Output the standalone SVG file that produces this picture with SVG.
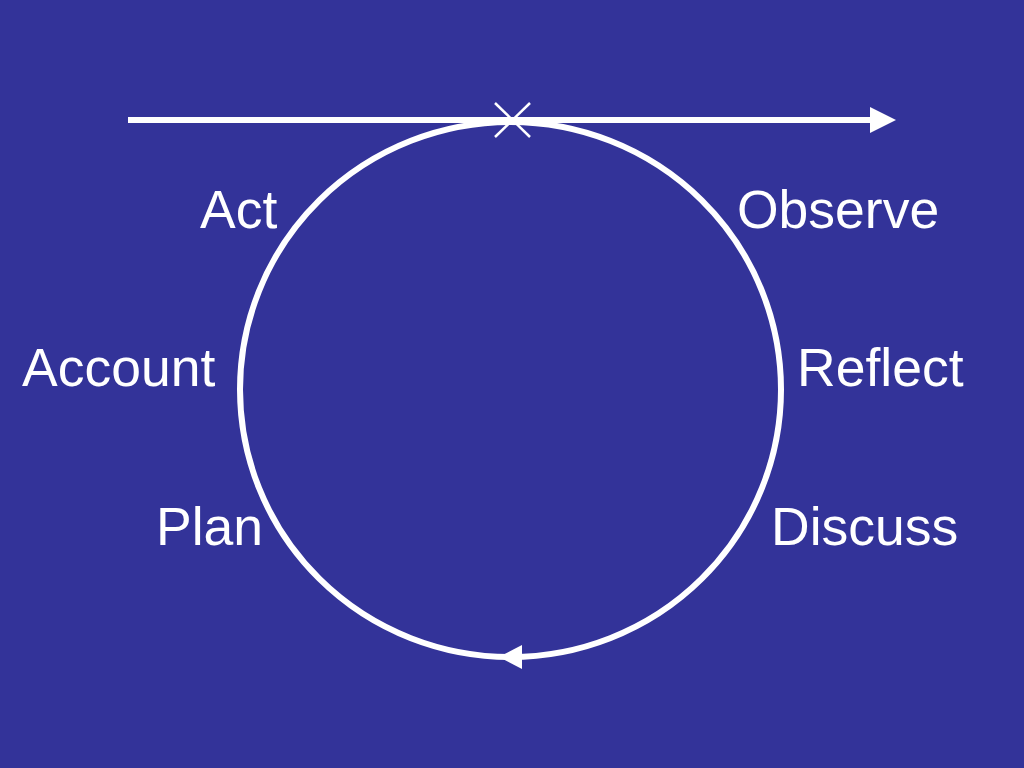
<svg xmlns="http://www.w3.org/2000/svg" width="1024" height="768" viewBox="0 0 1024 768">
<style>
.lbl{font-family:"Liberation Sans",Arial,sans-serif;font-size:53.5px;fill:#ffffff}
.ln{stroke:#ffffff;fill:none}
</style>
<rect x="0" y="0" width="1024" height="768" fill="#333399"/>
<g id="connectors">
<ellipse class="ln" cx="510.5" cy="389.5" rx="270.5" ry="267.5" stroke-width="6"/>
<line class="ln" x1="128" y1="120" x2="874" y2="120" stroke-width="6"/>
<polygon points="870,107 896,120 870,133" fill="#ffffff"/>
<polygon points="499,657 522,645 522,669" fill="#ffffff"/>
<line class="ln" x1="495" y1="103" x2="530" y2="137" stroke-width="2.5"/>
<line class="ln" x1="530" y1="103" x2="495" y2="137" stroke-width="2.5"/>
</g>
<g id="act"><text class="lbl" x="200" y="228">Act</text></g>
<g id="observe"><text class="lbl" x="737" y="228">Observe</text></g>
<g id="account"><text class="lbl" x="22" y="386">Account</text></g>
<g id="reflect"><text class="lbl" x="797" y="386">Reflect</text></g>
<g id="plan"><text class="lbl" x="156" y="545">Plan</text></g>
<g id="discuss"><text class="lbl" x="771" y="545">Discuss</text></g>
</svg>
